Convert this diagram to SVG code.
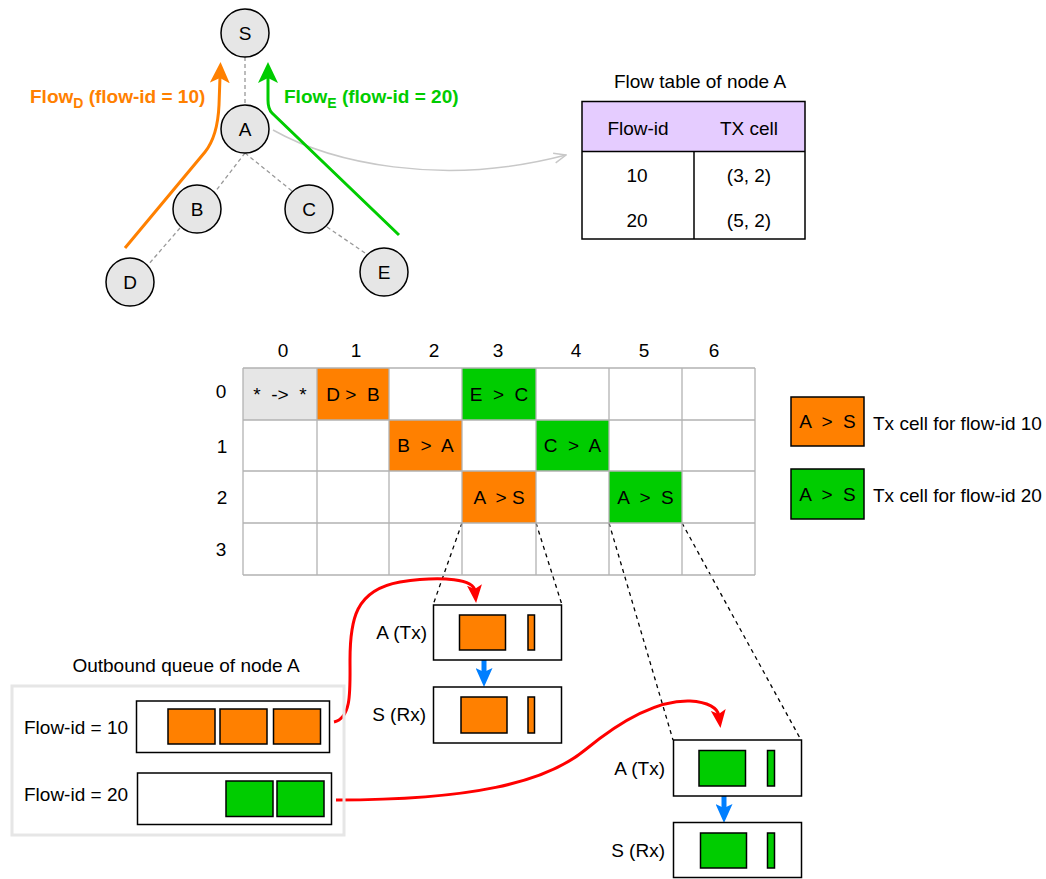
<svg xmlns="http://www.w3.org/2000/svg" width="1046" height="879" viewBox="0 0 1046 879">
<style>
text{font-family:"Liberation Sans",Arial,sans-serif;font-size:19px;fill:#000}
.c{text-anchor:middle}
.e{text-anchor:end}
.node{fill:#e6e6e6;stroke:#000;stroke-width:1.5}
.tree{stroke:#999;stroke-width:1.3;stroke-dasharray:4 3;fill:none}
.dash{stroke:#000;stroke-width:1.3;stroke-dasharray:4 4;fill:none}
.box{fill:#fff;stroke:#000;stroke-width:1.5}
.or{fill:#ff8000;stroke:#000;stroke-width:1.5}
.gr{fill:#00cc00;stroke:#000;stroke-width:1.5}
.grid{stroke:#b3b3b3;stroke-width:1.3;fill:none}
</style>
<defs>
<marker id="aOr" viewBox="0 0 21 20" markerWidth="21" markerHeight="20" refX="6" refY="10" orient="auto" markerUnits="userSpaceOnUse"><path d="M0,0 L21,10 L0,20 L5,10 Z" fill="#ff8000"/></marker>
<marker id="aGr" viewBox="0 0 21 20" markerWidth="21" markerHeight="20" refX="6" refY="10" orient="auto" markerUnits="userSpaceOnUse"><path d="M0,0 L21,10 L0,20 L5,10 Z" fill="#00cc00"/></marker>
<marker id="aRed" viewBox="0 0 18 15" markerWidth="18" markerHeight="15" refX="6" refY="7.5" orient="auto" markerUnits="userSpaceOnUse"><path d="M0,0 L18,7.5 L0,15 L4,7.5 Z" fill="#ff0000"/></marker>
<marker id="aBlue" viewBox="0 0 19 17" markerWidth="19" markerHeight="17" refX="5" refY="8.5" orient="auto" markerUnits="userSpaceOnUse"><path d="M0,0 L19,8.5 L0,17 L4,8.5 Z" fill="#007fff"/></marker>
<marker id="aGray" viewBox="0 0 14 12" markerWidth="14" markerHeight="12" refX="13" refY="6" orient="auto" markerUnits="userSpaceOnUse"><path d="M1,1 L13,6 L1,11" fill="none" stroke="#c8c8c8" stroke-width="1.5"/></marker>
</defs>

<g id="connectors">
<line class="tree" x1="245" y1="57" x2="245" y2="105"/>
<line class="tree" x1="245" y1="153" x2="215" y2="192"/>
<line class="tree" x1="180" y1="228" x2="148" y2="265"/>
<line class="tree" x1="245" y1="153" x2="292" y2="191"/>
<line class="tree" x1="327" y1="227" x2="368" y2="255"/>
<path d="M273,130 C330,162 440,188 566,155" fill="none" stroke="#c8c8c8" stroke-width="1.5" marker-end="url(#aGray)"/>
<path d="M125,248 L205,152 C213,142 218,128 219,105 L220,77" fill="none" stroke="#ff8000" stroke-width="3" marker-end="url(#aOr)"/>
<path d="M399,235 L272,113 Q268,109 268,100 L268,77" fill="none" stroke="#00cc00" stroke-width="3" marker-end="url(#aGr)"/>
<line class="dash" x1="462" y1="523" x2="433" y2="605"/>
<line class="dash" x1="536" y1="523" x2="562" y2="605"/>
<line class="dash" x1="609" y1="523" x2="673" y2="740"/>
<line class="dash" x1="682" y1="523" x2="801" y2="740"/>
<path d="M334,722 C352,718 350,690 350,660 C350,620 355,590 400,582 C445,575 474,580 475,591" fill="none" stroke="#ff0000" stroke-width="3" marker-end="url(#aRed)"/>
<path d="M336,800 C470,800 545,783 585,750 C625,717 660,700 690,701 C708,702 718,708 719,716" fill="none" stroke="#ff0000" stroke-width="3" marker-end="url(#aRed)"/>
<line x1="484" y1="660" x2="484" y2="673" stroke="#007fff" stroke-width="5" marker-end="url(#aBlue)"/>
<line x1="724" y1="796" x2="724" y2="809" stroke="#007fff" stroke-width="5" marker-end="url(#aBlue)"/>
</g>

<g id="node-S"><circle class="node" cx="245" cy="33" r="24"/><text class="c" x="245" y="39.5">S</text></g>
<g id="node-A"><circle class="node" cx="245" cy="129" r="24"/><text class="c" x="245" y="135.5">A</text></g>
<g id="node-B"><circle class="node" cx="197" cy="209" r="24"/><text class="c" x="197" y="215.5">B</text></g>
<g id="node-C"><circle class="node" cx="309" cy="209" r="24"/><text class="c" x="309" y="215.5">C</text></g>
<g id="node-D"><circle class="node" cx="130" cy="282" r="24"/><text class="c" x="130" y="288.5">D</text></g>
<g id="node-E"><circle class="node" cx="384" cy="272" r="24"/><text class="c" x="384" y="278.5">E</text></g>

<g id="flow-labels">
<text x="30" y="103" style="font-weight:bold;fill:#ff8000">Flow<tspan dy="5" style="font-size:14px;fill:#ff8000">D</tspan><tspan dy="-5" style="fill:#ff8000"> (flow-id = 10)</tspan></text>
<text x="284" y="103" style="font-weight:bold;fill:#00cc00">Flow<tspan dy="5" style="font-size:14px;fill:#00cc00">E</tspan><tspan dy="-5" style="fill:#00cc00"> (flow-id = 20)</tspan></text>
</g>

<g id="flow-table">
<text class="c" x="700" y="88">Flow table of node A</text>
<rect x="582" y="101.5" width="223" height="50" fill="#e5ccff"/>
<rect x="582" y="101.5" width="223" height="137.5" fill="none" stroke="#000" stroke-width="1.5"/>
<line x1="582" y1="151.5" x2="805" y2="151.5" stroke="#000" stroke-width="1.5"/>
<line x1="694" y1="151.5" x2="694" y2="239" stroke="#000" stroke-width="1.5"/>
<text class="c" x="638" y="134.5">Flow-id</text>
<text class="c" x="749" y="134.5">TX cell</text>
<text class="c" x="637" y="181.5">10</text>
<text class="c" x="749" y="181.5">(3, 2)</text>
<text class="c" x="637" y="226.5">20</text>
<text class="c" x="749" y="226.5">(5, 2)</text>
</g>

<g id="schedule">
<rect x="243" y="368" width="74" height="52" fill="#e6e6e6"/>
<rect x="317" y="368" width="72" height="52" fill="#ff8000"/>
<rect x="462" y="368" width="74" height="52" fill="#00cc00"/>
<rect x="389" y="420" width="73" height="51" fill="#ff8000"/>
<rect x="536" y="420" width="73" height="51" fill="#00cc00"/>
<rect x="462" y="471" width="74" height="52" fill="#ff8000"/>
<rect x="609" y="471" width="73" height="52" fill="#00cc00"/>
<path class="grid" d="M243,368 H755 M243,420 H755 M243,471 H755 M243,523 H755 M243,575 H755 M243,368 V575 M317,368 V575 M389,368 V575 M462,368 V575 M536,368 V575 M609,368 V575 M682,368 V575 M755,368 V575"/>
<text class="c" x="280" y="400.5" xml:space="preserve">*  ->  *</text>
<text class="c" x="353" y="400.5" xml:space="preserve">D &gt;  B</text>
<text class="c" x="499" y="400.5" xml:space="preserve">E  &gt;  C</text>
<text class="c" x="425.5" y="452" xml:space="preserve">B  &gt;  A</text>
<text class="c" x="572.5" y="452" xml:space="preserve">C  &gt;  A</text>
<text class="c" x="499" y="503.5" xml:space="preserve">A  &gt; S</text>
<text class="c" x="645.5" y="503.5" xml:space="preserve">A  &gt;  S</text>
<text class="c" x="283" y="357">0</text>
<text class="c" x="356" y="357">1</text>
<text class="c" x="434" y="357">2</text>
<text class="c" x="498" y="357">3</text>
<text class="c" x="576" y="357">4</text>
<text class="c" x="644" y="357">5</text>
<text class="c" x="714" y="357">6</text>
<text class="c" x="221" y="398">0</text>
<text class="c" x="222" y="453">1</text>
<text class="c" x="222" y="504">2</text>
<text class="c" x="221" y="556">3</text>
</g>

<g id="legend">
<rect class="or" x="791" y="397" width="73" height="49"/>
<text class="c" x="827.5" y="428" xml:space="preserve">A  &gt;  S</text>
<text x="873" y="429.5">Tx cell for flow-id 10</text>
<rect class="gr" x="791" y="469" width="73" height="50"/>
<text class="c" x="827.5" y="500.5" xml:space="preserve">A  &gt;  S</text>
<text x="873" y="501.5">Tx cell for flow-id 20</text>
</g>

<g id="cell-10-tx">
<rect class="box" x="433.5" y="605" width="128" height="55"/>
<rect class="or" x="459.5" y="615" width="46" height="35"/>
<rect class="or" x="528" y="615" width="6.5" height="35"/>
<text class="e" x="427" y="639">A (Tx)</text>
</g>
<g id="cell-10-rx">
<rect class="box" x="433.5" y="687" width="128" height="56"/>
<rect class="or" x="461" y="697" width="46" height="36"/>
<rect class="or" x="528" y="697" width="6.5" height="36"/>
<text class="e" x="426" y="721">S (Rx)</text>
</g>
<g id="cell-20-tx">
<rect class="box" x="673.5" y="740" width="128" height="56"/>
<rect class="gr" x="699" y="750.5" width="46.5" height="35.5"/>
<rect class="gr" x="767.5" y="750.5" width="7" height="35.5"/>
<text class="e" x="665" y="775">A (Tx)</text>
</g>
<g id="cell-20-rx">
<rect class="box" x="673.5" y="822.5" width="128" height="55"/>
<rect class="gr" x="700.5" y="833" width="46" height="35"/>
<rect class="gr" x="767.5" y="833" width="7" height="35"/>
<text class="e" x="665" y="857">S (Rx)</text>
</g>

<g id="outbound-queue">
<text class="c" x="186" y="672">Outbound queue of node A</text>
<rect x="12" y="686" width="332" height="149" fill="none" stroke="#e6e6e6" stroke-width="3"/>
<rect class="box" x="136.5" y="701" width="193" height="51.5"/>
<rect class="or" x="168" y="709" width="47" height="35"/>
<rect class="or" x="220" y="709" width="47" height="35"/>
<rect class="or" x="273.5" y="709" width="47" height="35"/>
<text x="24" y="734">Flow-id = 10</text>
<rect class="box" x="137.5" y="773" width="194" height="51.5"/>
<rect class="gr" x="226" y="781" width="47" height="35.5"/>
<rect class="gr" x="277" y="781" width="47" height="35.5"/>
<text x="24" y="801">Flow-id = 20</text>
</g>
</svg>
